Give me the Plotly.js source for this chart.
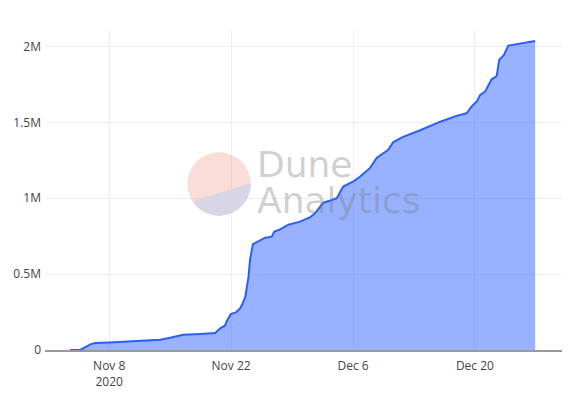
<!DOCTYPE html>
<html>
<head>
<meta charset="utf-8">
<script src="https://cdn.plot.ly/plotly-3.0.1.min.js"></script>
<style>html,body{margin:0;padding:0;background:#fff;}#chart{width:572px;height:396px;}</style>
</head>
<body>
<div id="chart"></div>
<script>
// Cumulative values (millions)
const dates = [
  "2020-11-03 12:00","2020-11-04 16:00","2020-11-05 20:00","2020-11-06 09:00","2020-11-08 00:00",
  "2020-11-11 00:00","2020-11-13 20:00","2020-11-15 00:00","2020-11-16 12:00","2020-11-18 12:00",
  "2020-11-20 04:00","2020-11-20 18:00","2020-11-21 07:00","2020-11-21 12:00","2020-11-21 23:00",
  "2020-11-22 13:00","2020-11-23 01:00","2020-11-23 08:00","2020-11-23 15:00","2020-11-24 00:00",
  "2020-11-24 04:00","2020-11-24 12:00","2020-11-25 08:00","2020-11-25 22:00","2020-11-26 16:00",
  "2020-11-26 23:00","2020-11-27 15:00","2020-11-28 14:00","2020-11-29 22:00","2020-12-01 02:00",
  "2020-12-01 15:00","2020-12-02 14:00","2020-12-03 10:00","2020-12-04 03:00","2020-12-04 21:00",
  "2020-12-06 01:00","2020-12-06 19:00","2020-12-07 23:00","2020-12-08 17:00","2020-12-10 01:00",
  "2020-12-10 15:00","2020-12-11 18:00","2020-12-13 17:00","2020-12-15 23:00","2020-12-17 21:00",
  "2020-12-19 01:00","2020-12-19 15:00","2020-12-20 06:00","2020-12-20 14:00","2020-12-21 04:00",
  "2020-12-21 22:00","2020-12-22 12:00","2020-12-22 19:00","2020-12-23 08:00","2020-12-23 20:00",
  "2020-12-26 22:00"
];
const valuesM = [
  0, 0, 0.037, 0.046, 0.050,
  0.058, 0.068, 0.081, 0.100, 0.106,
  0.112, 0.143, 0.160, 0.190, 0.237,
  0.248, 0.275, 0.308, 0.350, 0.483,
  0.593, 0.697, 0.720, 0.740, 0.747,
  0.780, 0.795, 0.826, 0.846, 0.875,
  0.901, 0.971, 0.985, 1.000, 1.077,
  1.112, 1.142, 1.200, 1.266, 1.320,
  1.370, 1.405, 1.448, 1.503, 1.543,
  1.560, 1.605, 1.640, 1.680, 1.703,
  1.784, 1.806, 1.912, 1.945, 2.006,
  2.037
];
const xTickVals = ["2020-11-08","2020-11-22","2020-12-06","2020-12-20"];
const xTickText = ["Nov 8<br>2020","Nov 22","Dec 6","Dec 20"];
const yTickVals = [0, 500000, 1000000, 1500000, 2000000];
const yTickText = ["0","0.5M","1M","1.5M","2M"];

const values = valuesM.map(v => v * 1e6);

const logoSvg = '<svg xmlns="http://www.w3.org/2000/svg" width="64" height="64" viewBox="0 0 64 64">' +
  '<defs><clipPath id="c"><circle cx="32" cy="32" r="31.7"/></clipPath></defs>' +
  '<g clip-path="url(#c)">' +
  '<rect x="0" y="0" width="64" height="64" fill="rgb(240,120,100)" fill-opacity="0.25"/>' +
  '<polygon points="0,51 64,31 64,64 0,64" fill="rgb(255,255,255)" fill-opacity="1"/>' +
  '<polygon points="0,51 64,31 64,64 0,64" fill="rgb(60,50,130)" fill-opacity="0.2"/>' +
  '</g></svg>';

const trace = {
  type: 'scatter',
  mode: 'lines',
  x: dates,
  y: values,
  fill: 'tozeroy',
  fillcolor: 'rgba(51,102,255,0.5)',
  line: {color: 'rgb(41,95,250)', width: 2, shape: 'linear'},
  hoverinfo: 'x+y'
};

const wmFont = {family: '"DejaVu Sans", sans-serif', size: 36, color: 'rgba(120,120,120,0.35)'};

const layout = {
  width: 572,
  height: 396,
  margin: {l: 45, r: 10, t: 30, b: 46},
  paper_bgcolor: '#fff',
  plot_bgcolor: '#fff',
  showlegend: false,
  font: {family: '"Open Sans", Verdana, sans-serif', size: 12, color: '#444'},
  xaxis: {
    type: 'date',
    range: ['2020-10-31 15:00', '2020-12-30 00:00'],
    tickvals: xTickVals,
    ticktext: xTickText,
    showgrid: true,
    gridcolor: '#eee',
    zeroline: false,
    showline: true,
    linecolor: '#999',
    linewidth: 2,
    ticks: '',
    ticklabelstandoff: 4,
    tickfont: {size: 12, color: '#444'}
  },
  yaxis: {
    range: [0, 2109000],
    tickvals: yTickVals,
    ticktext: yTickText,
    showgrid: true,
    gridcolor: '#eee',
    zeroline: false,
    ticks: '',
    ticklabelstandoff: 3,
    tickfont: {size: 12, color: '#444'}
  },
  images: [{
    source: 'data:image/svg+xml;charset=utf-8,' + encodeURIComponent(logoSvg),
    xref: 'paper', yref: 'paper',
    x: (187 - 45) / 517, y: (350 - 152) / 320,
    sizex: 64 / 517, sizey: 64 / 320,
    xanchor: 'left', yanchor: 'top',
    sizing: 'stretch',
    layer: 'above'
  }],
  annotations: [
    {text: 'Dune', xref: 'paper', yref: 'paper', x: (255 - 45) / 517, y: (350 - 164) / 320,
     xanchor: 'left', yanchor: 'middle', showarrow: false, font: wmFont},
    {text: 'Analytics', xref: 'paper', yref: 'paper', x: (255 - 45) / 517, y: (350 - 200) / 320,
     xanchor: 'left', yanchor: 'middle', showarrow: false, font: wmFont}
  ]
};

Plotly.newPlot('chart', [trace], layout, {displayModeBar: false, staticPlot: true});
</script>
</body>
</html>
